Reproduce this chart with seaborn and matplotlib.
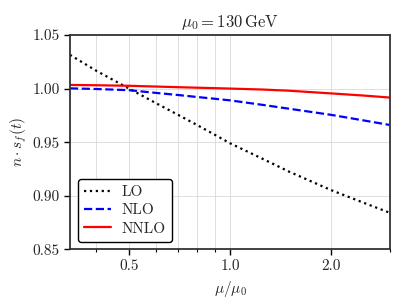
import numpy as np
import pandas as pd
import matplotlib
matplotlib.use("Agg")
import matplotlib.pyplot as plt
import matplotlib.ticker as mticker
import seaborn as sns

# ── données ─────────────────────────────────────────────────────
mu_ratio = [1/3, 0.4, 0.5, 0.6, 0.7, 0.8, 0.9, 1.0, 1.25, 1.5, 2.0, 2.5, 3.0]
lo   = [1.0315, 1.0165, 1.0000, 0.9866, 0.9755, 0.9658, 0.9570, 0.9490,
        0.9345, 0.9225, 0.9053, 0.8935, 0.8840]
nlo  = [1.0002, 0.9996, 0.9985, 0.9960, 0.9940, 0.9921, 0.9905, 0.9890,
        0.9848, 0.9812, 0.9755, 0.9703, 0.9660]
nnlo = [1.0034, 1.0031, 1.0026, 1.0019, 1.0013, 1.0008, 1.0004, 1.0000,
        0.9991, 0.9980, 0.9955, 0.9935, 0.9916]
order_labels = ["LO", "NLO", "NNLO"]
x_ticks = [0.5, 1.0, 2.0]
y_ticks = [0.85, 0.90, 0.95, 1.00, 1.05]

df = pd.DataFrame({
    "mu": mu_ratio * 3,
    "val": lo + nlo + nnlo,
    "ordre": sum([[lab] * len(mu_ratio) for lab in order_labels], []),
})

# ── style ───────────────────────────────────────────────────────
sns.set_style("whitegrid")
plt.rcParams["font.family"] = ["cmr10", "DejaVu Serif"]
plt.rcParams["mathtext.fontset"] = "cm"
plt.rcParams["axes.formatter.use_mathtext"] = True
plt.rcParams["font.size"] = 11

fig = plt.figure(figsize=(4.09, 3.07), dpi=100)
ax = fig.add_axes([0.171, 0.188, 0.7825, 0.698])

styles = {"LO": ("black", ":"), "NLO": ("blue", "--"), "NNLO": ("red", "-")}
for lab in order_labels:
    col, ls = styles[lab]
    sns.lineplot(data=df[df["ordre"] == lab], x="mu", y="val", color=col,
                 linestyle=ls, linewidth=1.6, label=lab, ax=ax)

ax.set_xscale("log")
ax.set_xlim(1/3, 3.0)
ax.set_ylim(0.85, 1.05)
ax.xaxis.set_major_locator(mticker.FixedLocator(x_ticks))
ax.xaxis.set_major_formatter(mticker.FormatStrFormatter("%.1f"))
ax.xaxis.set_minor_locator(mticker.LogLocator(base=10, subs=np.arange(2, 10)))
ax.xaxis.set_minor_formatter(mticker.NullFormatter())
ax.yaxis.set_major_locator(mticker.FixedLocator(y_ticks))
ax.yaxis.set_major_formatter(mticker.FormatStrFormatter("%.2f"))

ax.grid(True, which="both", color="#d9d9d9", linewidth=0.6)
ax.tick_params(axis="both", which="major", direction="out", length=4,
               width=1.0, color="black", labelsize=11, bottom=True, left=True)
ax.tick_params(axis="x", which="minor", direction="out", length=2.5,
               width=0.8, color="black", bottom=True)
for sp in ax.spines.values():
    sp.set_color("#333333")
    sp.set_linewidth(1.3)

ax.set_title(r"$\mu_0 = 130\,\mathrm{GeV}$", fontsize=12)
ax.set_xlabel(r"$\mu/\mu_0$", fontsize=11)
ax.set_ylabel(r"$n \cdot s_f(t)$", fontsize=11, labelpad=2)

leg = ax.legend(loc="lower left", fontsize=11, frameon=True, fancybox=True,
                framealpha=1.0, handlelength=1.8, handletextpad=0.7,
                borderpad=0.4, labelspacing=0.3)
leg.get_frame().set_edgecolor("black")
leg.get_frame().set_linewidth(1.0)

fig.savefig("out.png", dpi=100)
